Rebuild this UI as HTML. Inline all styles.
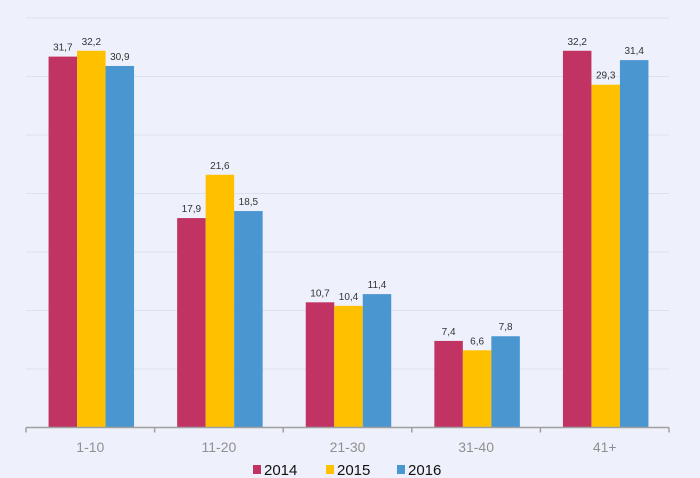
<!DOCTYPE html>
<html><head><meta charset="utf-8"><style>
html,body{margin:0;padding:0;background:#eef1fb;}
svg{display:block;font-family:"Liberation Sans",sans-serif;}
</style></head><body>
<svg id="chart" width="700" height="478">
<rect width="700" height="478" fill="#eef1fb"/>
<g id="grid"></g><g id="bars"></g><g id="axis"></g>
<g id="legend"></g>
</svg>
<script>
const categories=["1-10","11-20","21-30","31-40","41+"];
const series=["2014","2015","2016"];
const values2014=[31.7,17.9,10.7,7.4,32.2];
const values2015=[32.2,21.6,10.4,6.6,29.3];
const values2016=[30.9,18.5,11.4,7.8,31.4];
const valueLabels2014=["31,7","17,9","10,7","7,4","32,2"];
const valueLabels2015=["32,2","21,6","10,4","6,6","29,3"];
const valueLabels2016=["30,9","18,5","11,4","7,8","31,4"];
const gridValues=[5,10,15,20,25,30,35];
const colors=["#c03363","#ffc000","#4a96d0"];
const NS="http://www.w3.org/2000/svg";
const x0=26,x1=669,yBase=427.5,yMax=35,yTop=18;
const y=v=>yBase-(v/yMax)*(yBase-yTop);
const band=(x1-x0)/categories.length;
const bw=28.5;
function mk(t,a,p){const e=document.createElementNS(NS,t);for(const k in a)e.setAttribute(k,a[k]);p.appendChild(e);return e;}
const g=document.getElementById('grid');
gridValues.forEach(v=>{const l=mk('line',{x1:x0,x2:x1,y1:y(v),y2:y(v),stroke:'#dde1ee','stroke-width':1},g);

});
const b=document.getElementById('bars');
const all=[values2014,values2015,values2016],labs=[valueLabels2014,valueLabels2015,valueLabels2016];
categories.forEach((c,i)=>{const cx=x0+band*(i+0.5)+1;
all.forEach((vals,s)=>{const bx=cx-1.5*bw+s*bw;
const r=mk('rect',{x:bx,y:y(vals[i]),width:bw,height:yBase-y(vals[i]),fill:colors[s]},b);


const t=mk('text',{x:bx+bw/2,y:y(vals[i])-6,'text-anchor':'middle','font-size':10,fill:'#333'},b);
t.textContent=labs[s][i];

});});
const a=document.getElementById('axis');
const al=mk('line',{x1:x0,x2:x1,y1:yBase,y2:yBase,stroke:'#a0a0a0','stroke-width':1.5},a);


for(let i=0;i<=categories.length;i++){const tx=x0+band*i;
const tk=mk('line',{x1:tx,x2:tx,y1:yBase,y2:yBase+5,stroke:'#a0a0a0','stroke-width':1.5},a);

}
categories.forEach((c,i)=>{const t=mk('text',{x:x0+band*(i+0.5),y:452,'text-anchor':'middle','font-size':14,fill:'#909090'},a);
t.textContent=c;

});
const L=document.getElementById('legend');
const lx=[253,326,397];
series.forEach((s,i)=>{const r=mk('rect',{x:lx[i],y:465,width:8,height:9,fill:colors[i]},L);


const t=mk('text',{x:lx[i]+11,y:475,'font-size':15,fill:'#111'},L);
t.textContent=s;

});
</script>
</body></html>
